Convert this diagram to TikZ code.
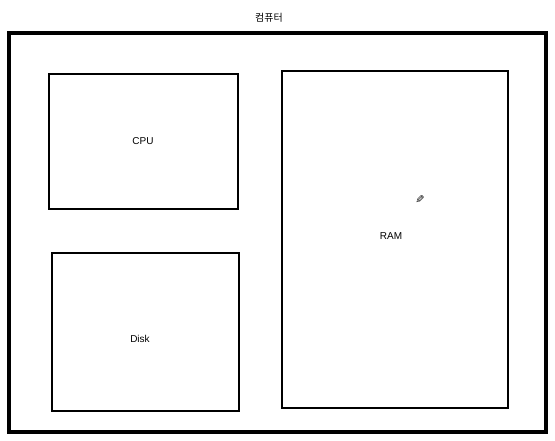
\documentclass[tikz,border=0pt]{standalone}
\usepackage{fontspec}
\setmainfont{Liberation Sans}
\newfontfamily\kofont{Noto Sans CJK KR}
\newfontfamily\symfont{DejaVu Sans}
\begin{document}
\begin{tikzpicture}[x=1pt,y=-1pt,
  outerbox/.style={draw=black,line width=3.2pt},
  innerbox/.style={draw=black,line width=2.8pt},
  lbl/.style={font=\fontsize{10}{12}\selectfont,text=black,inner sep=0pt}]
\useasboundingbox (0,0) rectangle (555,441);
\fill[white] (0,0) rectangle (555,441);
\draw[outerbox] (9,33) rectangle (546,432);
\draw[innerbox] (49,74) rectangle (238,209);
\draw[innerbox] (52,253) rectangle (239,411);
\draw[innerbox] (282,71) rectangle (508,408);
\node[lbl,font=\kofont\fontsize{10}{12}\selectfont] (title) at (269,18) {컴퓨터};
\node[lbl] (cpu) at (143,141) {CPU};
\node[lbl] (ram) at (391,236) {RAM};
\node[lbl] (disk) at (140,339) {Disk};
\node[inner sep=0pt,xscale=-1,font=\symfont\fontsize{11}{12}\selectfont] (pen) at (420,200) {✎};
\end{tikzpicture}
\end{document}
